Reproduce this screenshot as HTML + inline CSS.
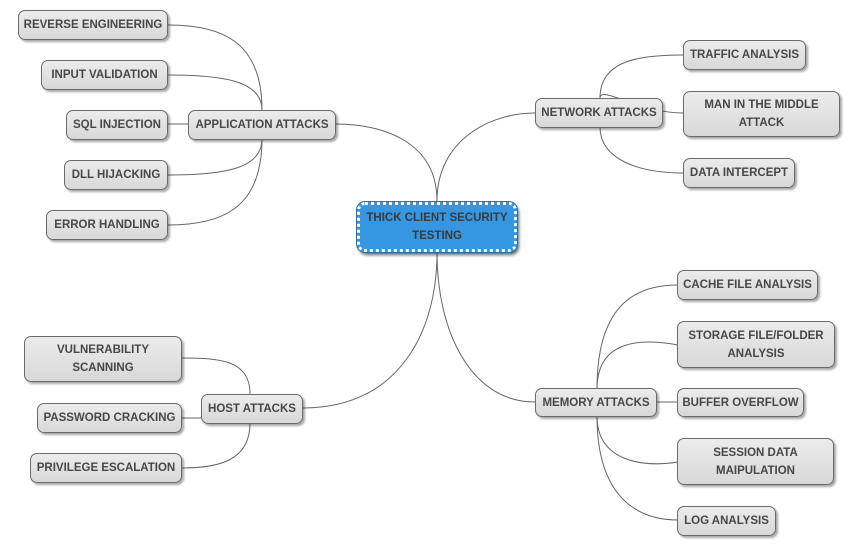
<!DOCTYPE html>
<html><head><style>
body{margin:0;background:#fff;width:852px;height:547px;overflow:hidden;position:relative;font-family:"Liberation Sans",sans-serif}
.n{position:absolute;box-sizing:border-box;border:1px solid #6a6a6a;border-radius:7px;background:linear-gradient(#ececec,#d8d8d8);box-shadow:2px 2px 2px rgba(0,0,0,.35);color:#474747;font-weight:bold;font-size:11.5px;display:flex;align-items:center;justify-content:center;text-align:center;line-height:18px}
.c{background:#3597e2;border:3px dotted #fff;outline:1px solid #2a6fa8;box-shadow:2px 3px 3px rgba(0,0,0,.6);color:#3a3a3a;border-radius:8px}
svg{position:absolute;left:0;top:0}
path{fill:none;stroke:#666;stroke-width:1}
</style></head><body>
<svg width="852" height="547">
<path d="M437,201 C437,140 380,124 336,124"/>
<path d="M437,201 C437,140 490,113 535,113"/>
<path d="M437,253 C437,330 400,408 303,408"/>
<path d="M437,253 C437,330 470,402 535,402"/>
<path d="M262,110 C262,40 220,25 168,25"/>
<path d="M262,110 C262,80 220,75 168,75"/>
<path d="M168,124 L188,124"/>
<path d="M262,139 C262,170 220,175 168,175"/>
<path d="M262,139 C262,210 220,225 168,225"/>
<path d="M600,98 C600,60 640,55 683,55"/>
<path d="M600,98 C600,85 640,113 683,113"/>
<path d="M600,127 C600,160 640,173 683,173"/>
<path d="M250,394 C250,360 220,358 182,358"/>
<path d="M182,418 L201,418"/>
<path d="M250,423 C250,460 220,468 182,468"/>
<path d="M597,389 C597,300 640,285 678,285"/>
<path d="M597,389 C597,340 640,338 678,345"/>
<path d="M656,402 L678,402"/>
<path d="M597,416 C597,460 640,468 678,462"/>
<path d="M597,416 C597,500 640,520 678,520"/>
</svg>
<div class="n c" style="left:357px;top:202px;width:160px;height:50px">THICK CLIENT SECURITY<br>TESTING</div>
<div class="n" style="left:18px;top:10px;width:150px;height:30px">REVERSE ENGINEERING</div>
<div class="n" style="left:41px;top:60px;width:127px;height:30px">INPUT VALIDATION</div>
<div class="n" style="left:66px;top:110px;width:102px;height:30px">SQL INJECTION</div>
<div class="n" style="left:64px;top:160px;width:104px;height:30px">DLL HIJACKING</div>
<div class="n" style="left:46px;top:210px;width:122px;height:30px">ERROR HANDLING</div>
<div class="n" style="left:188px;top:110px;width:148px;height:30px">APPLICATION ATTACKS</div>
<div class="n" style="left:535px;top:98px;width:128px;height:30px">NETWORK ATTACKS</div>
<div class="n" style="left:683px;top:40px;width:123px;height:30px">TRAFFIC ANALYSIS</div>
<div class="n" style="left:683px;top:91px;width:157px;height:46px">MAN IN THE MIDDLE<br>ATTACK</div>
<div class="n" style="left:683px;top:158px;width:112px;height:30px">DATA INTERCEPT</div>
<div class="n" style="left:201px;top:394px;width:102px;height:30px">HOST ATTACKS</div>
<div class="n" style="left:24px;top:336px;width:158px;height:46px">VULNERABILITY<br>SCANNING</div>
<div class="n" style="left:37px;top:403px;width:145px;height:30px">PASSWORD CRACKING</div>
<div class="n" style="left:30px;top:453px;width:152px;height:30px">PRIVILEGE ESCALATION</div>
<div class="n" style="left:535px;top:388px;width:122px;height:29px">MEMORY ATTACKS</div>
<div class="n" style="left:677px;top:270px;width:141px;height:30px">CACHE FILE ANALYSIS</div>
<div class="n" style="left:677px;top:321px;width:158px;height:47px">STORAGE FILE/FOLDER<br>ANALYSIS</div>
<div class="n" style="left:677px;top:388px;width:127px;height:29px">BUFFER OVERFLOW</div>
<div class="n" style="left:677px;top:438px;width:157px;height:47px">SESSION DATA<br>MAIPULATION</div>
<div class="n" style="left:677px;top:506px;width:99px;height:30px">LOG ANALYSIS</div>
</body></html>
